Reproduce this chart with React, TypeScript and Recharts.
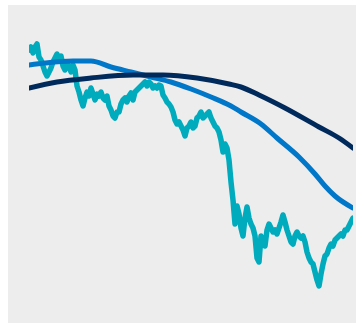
import React from "react";
import { LineChart, Line, XAxis, YAxis } from "recharts";

// Price series (daily index, closing level)
const priceDays: number[] = Array.from({ length: 163 }, (_, i) => i);
const priceValues: number[] = [
  273, 276, 270, 276, 279, 266, 263, 257, 251, 247, 251, 255, 261, 265, 269, 263, 267, 257, 253, 259,
  257, 251, 258, 253, 237, 231, 223, 217, 225, 231, 227, 235, 229, 223, 229, 227, 231, 225, 223, 227,
  217, 213, 207, 205, 211, 211, 219, 223, 225, 221, 227, 230, 223, 231, 233, 235, 237, 239, 241, 237,
  241, 239, 235, 237, 235, 238, 237, 228, 225, 221, 219, 216, 211, 203, 199, 201, 197, 193, 187, 195,
  197, 201, 195, 197, 205, 207, 211, 205, 207, 209, 211, 205, 201, 197, 195, 191, 183, 171, 179, 175,
  163, 141, 123, 99, 117, 109, 95, 87, 105, 116, 105, 99, 95, 87, 65, 61, 87, 81, 77, 93,
  99, 95, 91, 93, 89, 95, 101, 108, 101, 93, 87, 81, 79, 87, 91, 87, 85, 87, 81, 71,
  65, 61, 59, 51, 43, 37, 49, 59, 67, 69, 75, 79, 77, 83, 85, 87, 89, 87, 93, 93,
  97, 101, 105,
];

// Short moving average
const maShortDays: number[] = [0, 8, 22, 31, 41, 51, 61, 71, 81, 91, 101, 106, 116, 124, 135, 143, 148, 153, 162];
const maShortValues: number[] = [258, 260, 262, 262, 256, 251, 246, 241, 234, 226, 217, 211, 199, 185, 166, 149, 137, 127, 115];

// Long moving average
const maLongDays: number[] = [0, 14, 31, 52, 67, 84, 100, 106, 115, 128, 145, 155, 162];
const maLongValues: number[] = [235, 241, 245, 248, 248, 245, 239, 236, 228, 215, 196, 185, 175];

const priceData = priceDays.map((d, i) => ({ day: d, v: priceValues[i] }));
const shortData = maShortDays.map((d, i) => ({ day: d, v: maShortValues[i] }));
const longData = maLongDays.map((d, i) => ({ day: d, v: maLongValues[i] }));

export default function App() {
  return (
    <div style={{ position: "fixed", left: 8, top: 5, width: 348, height: 318, background: "#ededed" }}>
      <LineChart width={348} height={318} margin={{ top: 0, right: 3, bottom: 0, left: 21 }}>
        <XAxis type="number" dataKey="day" domain={[0, 162]} hide allowDataOverflow />
        <YAxis type="number" domain={[0, 318]} hide allowDataOverflow />
        <Line
          data={priceData}
          dataKey="v"
          type="linear"
          stroke="#00abbd"
          strokeWidth={5.5}
          strokeLinecap="round"
          strokeLinejoin="round"
          dot={false}
          isAnimationActive={false}
        />
        <Line
          data={shortData}
          dataKey="v"
          type="monotone"
          stroke="#0077c8"
          strokeWidth={5}
          strokeLinecap="round"
          dot={false}
          isAnimationActive={false}
        />
        <Line
          data={longData}
          dataKey="v"
          type="monotone"
          stroke="#002a5c"
          strokeWidth={5}
          strokeLinecap="round"
          dot={false}
          isAnimationActive={false}
        />
      </LineChart>
    </div>
  );
}
